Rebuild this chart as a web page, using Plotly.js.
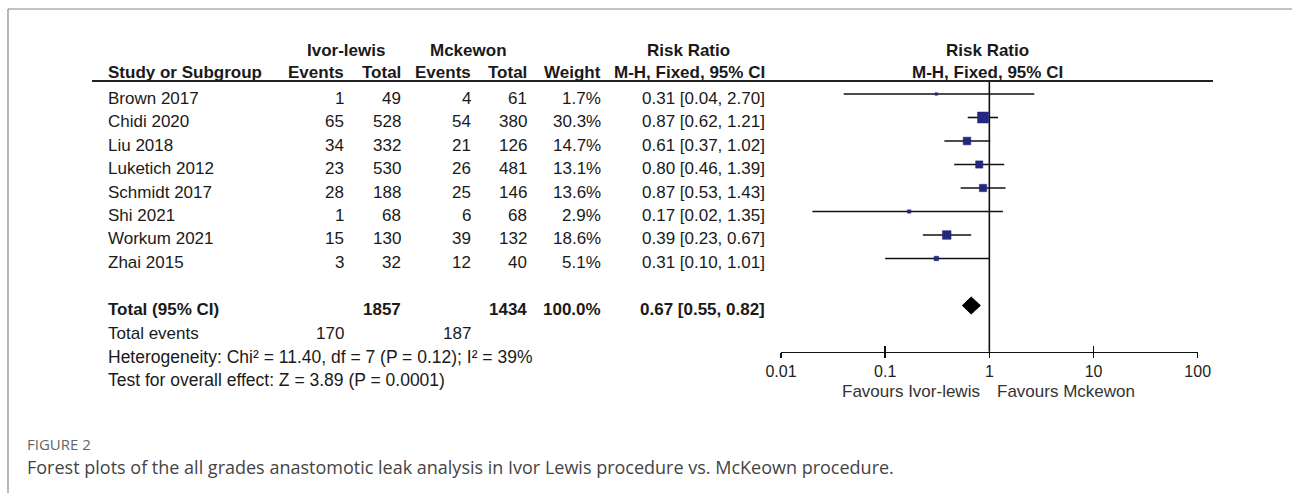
<!DOCTYPE html>
<html><head><meta charset="utf-8">
<script src="https://cdn.plot.ly/plotly-3.0.1.min.js"></script>
<style>html,body{margin:0;padding:0;background:#fff;}#chart{width:1292px;height:493px;}</style>
</head><body><div id="chart"></div>
<script>
// ---------- data ----------
const studies   = ['Brown 2017','Chidi 2020','Liu 2018','Luketich 2012','Schmidt 2017','Shi 2021','Workum 2021','Zhai 2015'];
const ilEvents  = [1,65,34,23,28,1,15,3];
const ilTotal   = [49,528,332,530,188,68,130,32];
const mkEvents  = [4,54,21,26,25,6,39,12];
const mkTotal   = [61,380,126,481,146,68,132,40];
const weights   = [1.7,30.3,14.7,13.1,13.6,2.9,18.6,5.1];
const rr        = [0.31,0.87,0.61,0.80,0.87,0.17,0.39,0.31];
const rrLow     = [0.04,0.62,0.37,0.46,0.53,0.02,0.23,0.10];
const rrHigh    = [2.70,1.21,1.02,1.39,1.43,1.35,0.67,1.01];
const totalIl   = 1857, totalMk = 1434, totalWeight = 100.0;
const eventsIl  = 170, eventsMk = 187;
const pooled    = {rr:0.67, low:0.55, high:0.82};
const heterogeneityText = 'Heterogeneity: Chi² = 11.40, df = 7 (P = 0.12); I² = 39%';
const overallText = 'Test for overall effect: Z = 3.89 (P = 0.0001)';
const tickVals  = [0.01,0.1,1,10,100];
const tickText  = ['0.01','0.1','1','10','100'];
const favourLeft = 'Favours Ivor-lewis', favourRight = 'Favours Mckewon';
const figLabel = 'FIGURE 2';
const captionText = 'Forest plots of the all grades anastomotic leak analysis in Ivor Lewis procedure vs. McKeown procedure.';

// ---------- layout geometry (pixels) ----------
const W = 1292, H = 493;
const FONT = 'Liberation Sans, Arial, sans-serif';
const TXT = '#1a1a1a';
const rowY0 = 98, rowStep = 23.5;
const rowY = studies.map((s,i)=>rowY0 + i*rowStep);
const totalY = rowY0 + 9*rowStep;
const evY = totalY + rowStep, hetY = evY + rowStep, testY = hetY + rowStep;
const markOff = -4;
const axisY = 351.5, lineTop = 81;
const col = {name:107, ilE:345, ilT:402, mkE:472, mkT:528, wt:602, ci:766};

const ann = [];
function cell(text, x, y, anchor, bold, size, color, family){
  ann.push({xref:'paper', yref:'paper', x:x/W, y:1 - y/H, text: bold?('<b>'+text+'</b>'):text,
    xanchor:anchor, yanchor:'middle', showarrow:false, borderpad:0,
    font:{family:family||FONT, size:size||17, color:color||TXT}});
}
const ci = (a,l,h)=> a.toFixed(2)+' ['+l.toFixed(2)+', '+h.toFixed(2)+']';

// headers
cell('Ivor-lewis', 346, 50, 'center', true);
cell('Mckewon', 468, 50, 'center', true);
cell('Risk Ratio', 688, 50, 'center', true);
cell('Risk Ratio', 988, 50, 'center', true);
cell('Study or Subgroup', col.name, 72.5, 'left', true);
cell('Events', col.ilE, 72.5, 'right', true);
cell('Total', col.ilT, 72.5, 'right', true);
cell('Events', col.mkE, 72.5, 'right', true);
cell('Total', col.mkT, 72.5, 'right', true);
cell('Weight', col.wt, 72.5, 'right', true);
cell('M-H, Fixed, 95% CI', col.ci, 72.5, 'right', true);
cell('M-H, Fixed, 95% CI', 988, 72.5, 'center', true);

studies.forEach((s,i)=>{
  const y = rowY[i];
  cell(s, col.name, y, 'left');
  cell(String(ilEvents[i]), col.ilE, y, 'right');
  cell(String(ilTotal[i]), col.ilT, y, 'right');
  cell(String(mkEvents[i]), col.mkE, y, 'right');
  cell(String(mkTotal[i]), col.mkT, y, 'right');
  cell(weights[i].toFixed(1)+'%', col.wt, y, 'right');
  cell(ci(rr[i],rrLow[i],rrHigh[i]), col.ci, y, 'right');
});
cell('Total (95% CI)', col.name, totalY, 'left', true);
cell(String(totalIl), col.ilT, totalY, 'right', true);
cell(String(totalMk), col.mkT, totalY, 'right', true);
cell(totalWeight.toFixed(1)+'%', col.wt, totalY, 'right', true);
cell(ci(pooled.rr,pooled.low,pooled.high), col.ci, totalY, 'right', true);
cell('Total events', col.name, evY, 'left');
cell(String(eventsIl), col.ilE, evY, 'right');
cell(String(eventsMk), col.mkE, evY, 'right');
cell(heterogeneityText, col.name, hetY, 'left', false, 17.5);
cell(overallText, col.name, testY, 'left', false, 17.5);
cell(favourLeft, 981, 391, 'right', false, 17, '#333');
cell(favourRight, 996, 391, 'left', false, 17, '#333');
cell(figLabel, 26, 444, 'left', false, 15, '#666', 'Open Sans, sans-serif');
cell(captionText, 26, 467, 'left', false, 18, '#444', 'Open Sans, sans-serif');

// ---------- traces ----------
const wx = [], wy = [];
studies.forEach((s,i)=>{ wx.push(rrLow[i], rrHigh[i], null); wy.push(rowY[i]+markOff, rowY[i]+markOff, null); });
const traces = [
  {type:'scatter', mode:'lines', x:[1,1], y:[lineTop, axisY], xaxis:'x', yaxis:'y',
   line:{color:'#111', width:1.6}, hoverinfo:'skip'},
  {type:'scatter', mode:'lines', x:wx, y:wy, xaxis:'x', yaxis:'y',
   line:{color:'#111', width:1.6}, hoverinfo:'skip'},
  {type:'scatter', mode:'markers', x:rr, y:rowY.map(v=>v+markOff), xaxis:'x', yaxis:'y',
   marker:{symbol:'square', color:'#23277f', opacity:1, size:weights.map(w=>2*Math.sqrt(w)), line:{width:0.5, color:'#23277f'}}, hoverinfo:'skip'},
  {type:'scatter', mode:'lines', fill:'toself', fillcolor:'#000',
   x:[pooled.low, pooled.rr, pooled.high, pooled.rr, pooled.low],
   y:[totalY+markOff, totalY+markOff-8.5, totalY+markOff, totalY+markOff+8.5, totalY+markOff],
   xaxis:'x', yaxis:'y', line:{color:'#000', width:1}, hoverinfo:'skip'},
  {type:'scatter', mode:'markers', x:[1], y:[-50], xaxis:'x3', yaxis:'y', marker:{opacity:0}, hoverinfo:'skip'}
];

const dom = [781/W, 1197.7/W];
const axPos = 1 - axisY/H;
const layout = {
  width:W, height:H, margin:{l:0,r:0,t:0,b:0}, paper_bgcolor:'#fff', plot_bgcolor:'rgba(0,0,0,0)',
  showlegend:false, font:{family:FONT, color:TXT},
  xaxis:{type:'log', domain:dom, range:[-2,2], anchor:'free', position:axPos,
    tickvals:tickVals, ticktext:tickText, ticks:'outside', ticklen:5, tickwidth:1.5, tickcolor:'#111',
    showline:true, linecolor:'#111', linewidth:1.6, showgrid:false, zeroline:false,
    tickfont:{family:FONT, size:16, color:'#222'}, fixedrange:true},
  xaxis3:{type:'log', domain:dom, range:[-2,2], anchor:'free', position:axPos, overlaying:'x',
    tickvals:tickVals, ticks:'inside', ticklen:6, tickwidth:1.5, tickcolor:'#111',
    showticklabels:false, showline:false, showgrid:false, zeroline:false, fixedrange:true},
  yaxis:{range:[H,0], domain:[0,1], visible:false, fixedrange:true},
  shapes:[
    {type:'line', xref:'paper', yref:'paper', x0:8/W, x1:1, y0:1-9/H, y1:1-9/H, line:{color:'#888', width:1.2}},
    {type:'line', xref:'paper', yref:'paper', x0:8/W, x1:8/W, y0:1-9/H, y1:0, line:{color:'#888', width:1.2}},
    {type:'line', xref:'paper', yref:'paper', x0:92/W, x1:1213/W, y0:1-81/H, y1:1-81/H, line:{color:'#222', width:2}}
  ],
  annotations:ann
};
Plotly.newPlot('chart', traces, layout, {displayModeBar:false, staticPlot:true});
</script></body></html>
